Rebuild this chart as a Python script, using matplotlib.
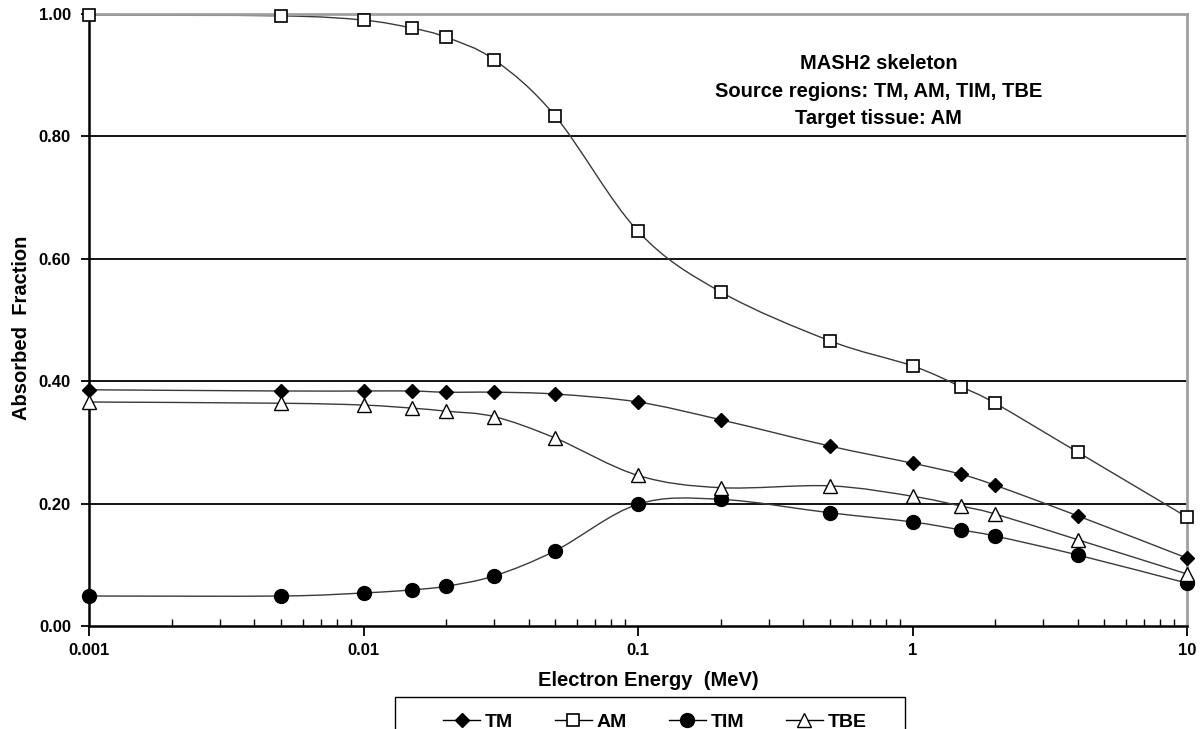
import numpy as np
import matplotlib
matplotlib.use('Agg')
import matplotlib.pyplot as plt
from matplotlib.path import Path
from matplotlib.patches import PathPatch, Rectangle
from matplotlib.lines import Line2D
from matplotlib.ticker import FixedLocator, LogLocator, NullFormatter

plt.rcParams['font.family'] = ['Liberation Sans', 'DejaVu Sans']
plt.rcParams['font.weight'] = 'bold'

energy = [0.001, 0.005, 0.01, 0.015, 0.02, 0.03, 0.05, 0.1, 0.2, 0.5, 1, 1.5, 2, 4, 10]
af_tm = [0.386, 0.384, 0.384, 0.384, 0.382, 0.382, 0.379, 0.366, 0.337, 0.294, 0.266, 0.248, 0.230, 0.180, 0.111]
af_am = [0.998, 0.997, 0.990, 0.977, 0.962, 0.925, 0.833, 0.645, 0.546, 0.466, 0.425, 0.391, 0.364, 0.284, 0.178]
af_tim = [0.049, 0.049, 0.054, 0.059, 0.065, 0.082, 0.123, 0.199, 0.207, 0.185, 0.170, 0.157, 0.147, 0.116, 0.070]
af_tbe = [0.366, 0.364, 0.361, 0.356, 0.351, 0.342, 0.307, 0.246, 0.226, 0.229, 0.212, 0.196, 0.183, 0.141, 0.085]

series = [
    ('TM', af_tm, dict(marker='D', ms=7.5, mfc='black', mec='black')),
    ('AM', af_am, dict(marker='s', ms=9, mfc='white', mec='black', mew=1.2)),
    ('TIM', af_tim, dict(marker='o', ms=10, mfc='black', mec='black')),
    ('TBE', af_tbe, dict(marker='^', ms=10, mfc='white', mec='black', mew=1.0)),
]

line_col = '#3a3a3a'
W, H = 1203, 729


def smooth_path(x, y):
    # Catmull-Rom style bezier, built in log10(x) so it bends like on screen
    lx = np.log10(np.asarray(x, dtype=float))
    y = np.asarray(y, dtype=float)
    n = len(lx)
    verts = [(lx[0], y[0])]
    codes = [Path.MOVETO]
    for i in range(n - 1):
        i0 = max(i - 1, 0)
        i3 = min(i + 2, n - 1)
        c1 = (lx[i] + (lx[i + 1] - lx[i0]) / 6, y[i] + (y[i + 1] - y[i0]) / 6)
        c2 = (lx[i + 1] - (lx[i3] - lx[i]) / 6, y[i + 1] - (y[i3] - y[i]) / 6)
        verts += [c1, c2, (lx[i + 1], y[i + 1])]
        codes += [Path.CURVE4] * 3
    verts = np.array(verts)
    verts[:, 0] = 10 ** verts[:, 0]
    return Path(verts, codes)


fig = plt.figure(figsize=(W / 100, H / 100), dpi=100)
ax = fig.add_axes([89 / W, 1 - 626 / H, (1187 - 89) / W, (626 - 14) / H])

ax.set_xscale('log')
ax.set_xlim(0.001, 10)
ax.set_ylim(0, 1.0)

for yv in [0.2, 0.4, 0.6, 0.8]:
    ax.axhline(yv, color='black', lw=1.3, zorder=1)

handles = []
for name, vals, style in series:
    ax.add_patch(PathPatch(smooth_path(energy, vals), fill=False, edgecolor=line_col,
                           lw=1.0, zorder=2))
    ax.plot(energy, vals, ls='none', zorder=3, clip_on=False, **style)
    handles.append(Line2D([], [], color='black', lw=1.0, label=name, **style))

yt = np.arange(0, 1.01, 0.2)
ax.set_yticks(yt)
ax.set_yticklabels(['%.2f' % v for v in yt])
ax.xaxis.set_major_locator(FixedLocator([0.001, 0.01, 0.1, 1, 10]))
ax.set_xticklabels(['0.001', '0.01', '0.1', '1', '10'])
ax.xaxis.set_minor_locator(LogLocator(base=10, subs=np.arange(2, 10)))
ax.xaxis.set_minor_formatter(NullFormatter())

ax.tick_params(axis='x', which='major', direction='out', length=7, width=1.3, pad=5, labelsize=12)
ax.tick_params(axis='x', which='minor', direction='in', length=5, width=1.0)
ax.tick_params(axis='y', which='major', direction='out', length=6, width=1.3, pad=7, labelsize=12)

for s in ['left', 'bottom']:
    ax.spines[s].set_color('black')
    ax.spines[s].set_linewidth(1.8)
for s in ['top', 'right']:
    ax.spines[s].set_color('#a0a0a0')
    ax.spines[s].set_linewidth(2.0)

ax.set_xlabel('Electron Energy  (MeV)', fontsize=14.5, fontweight='bold')
ax.xaxis.label.set_va('center')
ax.xaxis.set_label_coords((648 - 89) / 1098, (626 - 681) / 612)
ax.set_ylabel('Absorbed  Fraction', fontsize=14.5, fontweight='bold')
ax.yaxis.label.set_va('center')
ax.yaxis.set_label_coords((22 - 89) / 1098, (626 - 328) / 612)

ax.text(0.719, 0.934, 'MASH2 skeleton\nSource regions: TM, AM, TIM, TBE\nTarget tissue: AM',
        transform=ax.transAxes, ha='center', va='top', fontsize=14.5, fontweight='bold',
        linespacing=1.55)

# legend box runs past the bottom edge of the figure
fig.patches.append(Rectangle((395 / W, 1 - 745 / H), 510 / W, 48 / H, transform=fig.transFigure,
                             fill=False, edgecolor='black', lw=1.0))
leg = fig.legend(handles=handles, loc='center', ncol=4, frameon=False,
                 bbox_to_anchor=(655 / W, 1 - 722 / H), fontsize=14,
                 handlelength=1.9, handletextpad=0.25, columnspacing=2.15, borderaxespad=0)

fig.savefig('out.png', dpi=100)
